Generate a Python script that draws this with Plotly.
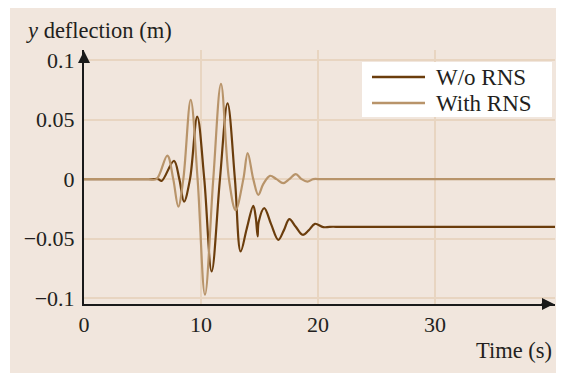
import plotly.graph_objects as go

# ---- data ----
t_with = [0, 5.5, 6.2, 7.12, 7.63, 8.06, 8.49, 9.12, 9.71, 10.34, 11.05, 11.71, 12.39, 12.96,
          13.62, 13.99, 14.47, 14.9, 15.33, 15.9, 16.45, 17.03, 17.55, 18.1, 18.6, 19.1, 19.6,
          20.2, 21.0, 30.0, 40.3]
y_with = [0, 0, 0, 0.0198, 0.0, -0.023, 0.0, 0.0665, 0.0, -0.097, 0.0, 0.080, 0.0, -0.026,
          0.0, 0.0218, 0.0, -0.0132, -0.004, 0.0028, 0.0, -0.0034, 0.0, 0.0042, 0.0, -0.002, 0,
          0, 0, 0, 0]

t_wo = [0, 5.8, 6.35, 6.64, 7.69, 8.15, 8.55, 9.06, 9.68, 10.28, 10.91, 11.62, 12.27, 12.9,
        13.39, 13.9, 14.47, 14.68, 14.84, 14.93, 15.41, 16.0, 16.61, 17.08, 17.55, 18.1,
        18.69, 19.2, 19.74, 20.45, 21.0, 22.0, 30.0, 40.3]
y_wo = [0, 0, 0, -0.0015, 0.0154, 0.0, -0.0188, 0.0, 0.0525, 0.0, -0.0775, 0.0, 0.0637, 0.0,
        -0.0607, -0.042, -0.0224, -0.032, -0.048, -0.036, -0.0243, -0.038, -0.051, -0.043,
        -0.0336, -0.040, -0.0467, -0.043, -0.0375, -0.0403, -0.040, -0.040, -0.040, -0.040]

series_names = ["W/o RNS", "With RNS"]
series_colors = ["#6b3d0c", "#b8946a"]

x_ticks = [0, 10, 20, 30]
x_tick_text = ["0", "10", "20", "30"]
y_ticks = [-0.1, -0.05, 0, 0.05, 0.1]
y_tick_text = ["\u22120.1", "\u22120.05", "0", "0.05", "0.1"]

x_range = [0, 40.26]
y_range = [-0.1048, 0.1084]

FONT = "Liberation Serif, Times New Roman, serif"
TXT = "#231f20"
BEIGE = "#f1e6dd"
GRID = "#e8d5c1"

# page has an 8px body margin; figure is sized to fit the window after it
OFF = 8
W, H = 569 - OFF, 373 - OFF
# plot area in page pixels: x 84..555, y 50..304
ml, mr, mt, mb = 84 - OFF, 569 - 555, 50 - OFF, 373 - 304
pw, ph = W - ml - mr, H - mt - mb


def px_x(p):
    return (p - OFF - ml) / pw


def px_y(p):
    return (H - mb - (p - OFF)) / ph


fig = go.Figure()
fig.add_trace(go.Scatter(x=t_wo, y=y_wo, mode="lines", name=series_names[0], showlegend=False,
                         line=dict(color=series_colors[0], width=2.2, shape="spline", smoothing=1.0)))
fig.add_trace(go.Scatter(x=t_with, y=y_with, mode="lines", name=series_names[1], showlegend=False,
                         line=dict(color=series_colors[1], width=2.2, shape="spline", smoothing=1.0)))

shapes = [
    dict(type="rect", xref="paper", yref="paper", layer="below",
         x0=px_x(10), x1=px_x(556), y0=px_y(380), y1=px_y(0),
         fillcolor=BEIGE, line=dict(width=0)),
    # legend box
    dict(type="rect", xref="paper", yref="paper", layer="above",
         x0=px_x(362), x1=px_x(552), y0=px_y(117), y1=px_y(62),
         fillcolor="white", line=dict(width=0)),
]
annotations = [
    dict(text="<i>y</i> deflection (m)", xref="paper", yref="paper", x=px_x(24), y=px_y(31),
         xanchor="left", yanchor="middle", showarrow=False,
         font=dict(family=FONT, size=22.5, color=TXT)),
    dict(text="Time (s)", xref="paper", yref="paper", x=px_x(554), y=px_y(350),
         xanchor="right", yanchor="middle", showarrow=False,
         font=dict(family=FONT, size=22.5, color=TXT)),
    # axis arrowheads
    dict(xref="paper", yref="paper", x=0, y=px_y(51), ax=0, ay=12, axref="pixel", ayref="pixel",
         showarrow=True, arrowhead=2, arrowsize=1.2, arrowwidth=2, arrowcolor="#1a1a1a", text=""),
    dict(xref="paper", yref="paper", x=px_x(554), y=0, ax=-14, ay=0, axref="pixel", ayref="pixel",
         showarrow=True, arrowhead=2, arrowsize=1.2, arrowwidth=2, arrowcolor="#1a1a1a", text=""),
]
# manual legend
for i, (nm, col) in enumerate(zip(series_names, series_colors)):
    yy = 77 + 26 * i
    shapes.append(dict(type="line", xref="paper", yref="paper", layer="above",
                       x0=px_x(372), x1=px_x(425), y0=px_y(yy), y1=px_y(yy),
                       line=dict(color=col, width=2.5)))
    annotations.append(dict(text=nm, xref="paper", yref="paper", x=px_x(434), y=px_y(yy),
                            xanchor="left", yanchor="middle", showarrow=False,
                            font=dict(family=FONT, size=23, color=TXT)))

fig.update_layout(
    width=W, height=H,
    margin=dict(l=ml, r=mr, t=mt, b=mb, pad=0),
    paper_bgcolor="white",
    plot_bgcolor="white",
    font=dict(family=FONT, size=22, color=TXT),
    showlegend=False,
    xaxis=dict(range=x_range, tickvals=x_ticks, ticktext=x_tick_text, showgrid=True,
               gridcolor=GRID, gridwidth=2, zeroline=False, showline=True, linecolor="#1a1a1a",
               linewidth=2, ticks="", tickfont=dict(family=FONT, size=22, color=TXT)),
    yaxis=dict(range=y_range, tickvals=y_ticks, ticktext=y_tick_text, showgrid=True,
               gridcolor=GRID, gridwidth=2, zeroline=False, showline=True, linecolor="#1a1a1a",
               linewidth=2, ticks="outside", ticklen=3, tickcolor="rgba(0,0,0,0)",
               tickfont=dict(family=FONT, size=22, color=TXT)),
    shapes=shapes,
    annotations=annotations,
)

fig.write_html("out.html")
